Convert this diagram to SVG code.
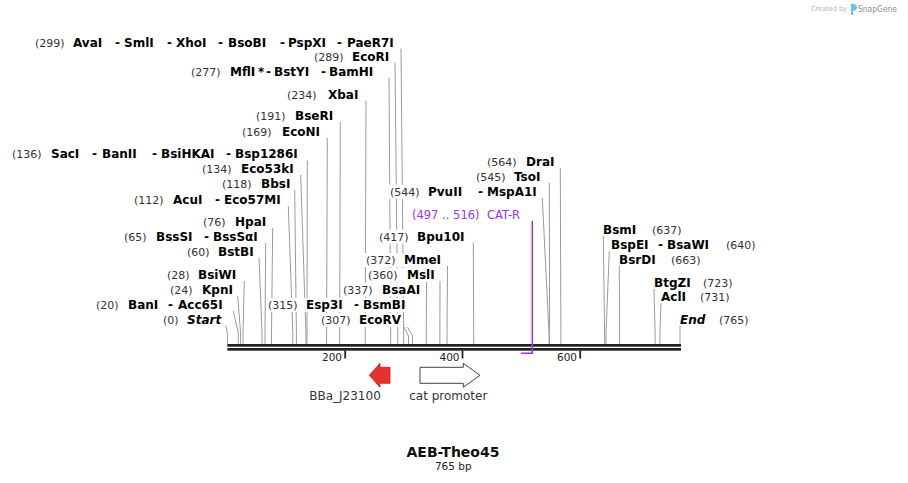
<svg xmlns="http://www.w3.org/2000/svg" width="908" height="483" viewBox="0 0 908 483">
<style>
text{font-family:"DejaVu Sans","Verdana",sans-serif}
.n{font-size:11px;fill:#333}
.e{font-size:12px;font-weight:bold;fill:#000}
.i{font-size:12px;font-weight:bold;font-style:italic;fill:#000}
.bg{fill:#fff}
.ln{fill:none;stroke:#9a9a9a;stroke-width:1}
.p{fill:#a030f0;font-size:11.5px}
.t{font-size:10.5px;fill:#222;text-anchor:end}
.fl{font-size:12px;fill:#333;text-anchor:middle}
</style>
<rect width="908" height="483" fill="#fff"/>
<g id="watermark">
<text x="811" y="10.5" font-size="7" fill="#b5b5b5" textLength="36" lengthAdjust="spacingAndGlyphs">Created by</text>
<path d="M851,3.5 q6,0 6,4 q0,3 -4,3.5 l0,4 l-2,0 z" fill="#6cc4ec"/>
<text x="858" y="12" font-size="9.5" fill="#8c8c8c" textLength="39" lengthAdjust="spacingAndGlyphs">SnapGene</text>
</g>
<g id="connectors">
<polyline class="ln" points="401,48.5 403.7,333 403.7,344"/>
<polyline class="ln" points="395,62.5 397.8,333 397.8,344"/>
<polyline class="ln" points="389,77.5 390.7,333 390.7,344"/>
<polyline class="ln" points="366,100.5 365.2,333 365.2,344"/>
<polyline class="ln" points="340.3,122 339.7,333 339.7,344"/>
<polyline class="ln" points="327.3,138 326.6,333 326.6,344"/>
<polyline class="ln" points="307.3,160.5 307,333 307,344"/>
<polyline class="ln" points="300.7,175 305.9,333 305.9,344"/>
<polyline class="ln" points="294.7,190 296.4,333 296.4,344"/>
<polyline class="ln" points="288.3,206 292.8,333 292.8,344"/>
<polyline class="ln" points="272.7,228 271.5,333 271.5,344"/>
<polyline class="ln" points="265.7,243 265,333 265,344"/>
<polyline class="ln" points="259,257.5 262,333 262,344"/>
<polyline class="ln" points="244.3,281 243,333 243,344"/>
<polyline class="ln" points="237.7,296 240.6,333 240.6,344"/>
<polyline class="ln" points="233.3,311 238.3,333 238.3,344"/>
<polyline class="ln" points="225.8,325.5 227.4,333 227.4,344"/>
<polyline class="ln" points="404,327 408.5,336 408.5,344"/>
<polyline class="ln" points="407.5,327 412.5,336 412.5,344"/>
<polyline class="ln" points="426.5,279 426.3,333 426.3,344"/>
<polyline class="ln" points="440,281 439.9,333 439.9,344"/>
<polyline class="ln" points="447.5,266 447,333 447,344"/>
<polyline class="ln" points="473.3,242.7 473.7,333 473.7,344"/>
<polyline class="ln" points="542.3,198 549,333 549,344"/>
<polyline class="ln" points="549.3,183 549.6,333 549.6,344"/>
<polyline class="ln" points="560.3,168 560.9,333 560.9,344"/>
<polyline class="ln" points="603.3,236 604.6,333 604.6,344"/>
<polyline class="ln" points="609.3,251 606,333 606,344"/>
<polyline class="ln" points="619.3,266 619.6,333 619.6,344"/>
<polyline class="ln" points="654,289 655.1,333 655.1,344"/>
<polyline class="ln" points="661,303 659.9,333 659.9,344"/>
<polyline class="ln" points="680,326 680,333 680,344"/>
</g>
<g id="backbone">
<rect x="227.3" y="344" width="453.7" height="2.7" fill="#222"/>
<rect x="227.3" y="348" width="453.7" height="2.7" fill="#222"/>
<rect x="344.3" y="350.5" width="1.8" height="8" fill="#222"/>
<rect x="461.6" y="350.5" width="1.8" height="8" fill="#222"/>
<rect x="579.3" y="350.5" width="1.8" height="8" fill="#222"/>
<text class="t" x="342" y="360.5">200</text>
<text class="t" x="459.5" y="360.5">400</text>
<text class="t" x="577" y="360.5">600</text>
</g>
<g id="CAT-R">
<polyline points="532.3,221 532.3,353.3 521,353.3" fill="none" stroke="#a030f0" stroke-width="1.5"/>
<rect class="bg" x="410" y="208" width="115" height="14"/>
<text class="p" x="412" y="219">(497 .. 516)</text>
<text class="p" x="487" y="219" font-size="12">CAT-R</text>
</g>
<g id="BBa_J23100">
<polygon points="369.3,375.3 380,363.3 380,367.3 390,367.3 390,383.3 380,383.3 380,387.3" fill="#e8302f" stroke="#b52020" stroke-width="0.8"/>
<text class="fl" x="345" y="400">BBa_J23100</text>
</g>
<g id="cat_promoter">
<polygon points="420,367.3 463.3,367.3 463.3,363.3 480,375.3 463.3,387.3 463.3,383.3 420,383.3" fill="#fff" stroke="#444" stroke-width="1"/>
<text class="fl" x="448.3" y="400">cat promoter</text>
</g>
<g id="title">
<text x="453" y="456.7" font-size="14" font-weight="bold" fill="#111" text-anchor="middle">AEB-Theo45</text>
<text x="453.3" y="469.5" font-size="10.5" fill="#222" text-anchor="middle">765 bp</text>
</g>
<g id="site299">
<rect class="bg" x="33" y="35.5" width="364" height="14"/>
<text class="n" x="35" y="46.5">(299)</text><text class="e" x="73" y="46.5">AvaI</text><text class="e" x="115" y="46.5">-</text><text class="e" x="124" y="46.5">SmlI</text><text class="e" x="167" y="46.5">-</text><text class="e" x="176" y="46.5">XhoI</text><text class="e" x="218" y="46.5">-</text><text class="e" x="228" y="46.5">BsoBI</text><text class="e" x="280" y="46.5">-</text><text class="e" x="288" y="46.5">PspXI</text><text class="e" x="337" y="46.5">-</text><text class="e" x="347" y="46.5">PaeR7I</text>
</g>
<g id="site289">
<rect class="bg" x="312" y="49.7" width="80" height="14"/>
<text class="n" x="314" y="60.7">(289)</text><text class="e" x="352" y="60.7">EcoRI</text>
</g>
<g id="site277">
<rect class="bg" x="189" y="64.7" width="196" height="14"/>
<text class="n" x="191" y="75.7">(277)</text><text class="e" x="230" y="75.7">MflI</text><text class="e" x="258" y="75.7">*</text><text class="e" x="266" y="75.7">-</text><text class="e" x="274" y="75.7">BstYI</text><text class="e" x="321" y="75.7">-</text><text class="e" x="329" y="75.7">BamHI</text>
</g>
<g id="site234">
<rect class="bg" x="285" y="87.5" width="76" height="14"/>
<text class="n" x="287" y="98.5">(234)</text><text class="e" x="328" y="98.5">XbaI</text>
</g>
<g id="site191">
<rect class="bg" x="254" y="109" width="82" height="14"/>
<text class="n" x="256" y="120">(191)</text><text class="e" x="295" y="120">BseRI</text>
</g>
<g id="site169">
<rect class="bg" x="240" y="125" width="83" height="14"/>
<text class="n" x="242" y="136">(169)</text><text class="e" x="282" y="136">EcoNI</text>
</g>
<g id="site136">
<rect class="bg" x="10" y="147.3" width="292" height="14"/>
<text class="n" x="12" y="158.3">(136)</text><text class="e" x="51" y="158.3">SacI</text><text class="e" x="92" y="158.3">-</text><text class="e" x="102" y="158.3">BanII</text><text class="e" x="152" y="158.3">-</text><text class="e" x="161" y="158.3">BsiHKAI</text><text class="e" x="226" y="158.3">-</text><text class="e" x="235" y="158.3">Bsp1286I</text>
</g>
<g id="site134">
<rect class="bg" x="200" y="162.3" width="97" height="14"/>
<text class="n" x="202" y="173.3">(134)</text><text class="e" x="241" y="173.3">Eco53kI</text>
</g>
<g id="site118">
<rect class="bg" x="220" y="177.3" width="72" height="14"/>
<text class="n" x="222" y="188.3">(118)</text><text class="e" x="261" y="188.3">BbsI</text>
</g>
<g id="site112">
<rect class="bg" x="132" y="193" width="152" height="14"/>
<text class="n" x="134" y="204">(112)</text><text class="e" x="173" y="204">AcuI</text><text class="e" x="215" y="204">-</text><text class="e" x="224" y="204">Eco57MI</text>
</g>
<g id="site76">
<rect class="bg" x="201" y="215" width="68" height="14"/>
<text class="n" x="203" y="226">(76)</text><text class="e" x="235" y="226">HpaI</text>
</g>
<g id="site65">
<rect class="bg" x="122" y="230" width="139" height="14"/>
<text class="n" x="124" y="241">(65)</text><text class="e" x="156" y="241">BssSI</text><text class="e" x="204" y="241">-</text><text class="e" x="213" y="241">BssSαI</text>
</g>
<g id="site60">
<rect class="bg" x="185" y="244.7" width="72" height="14"/>
<text class="n" x="187" y="255.7">(60)</text><text class="e" x="218" y="255.7">BstBI</text>
</g>
<g id="site28">
<rect class="bg" x="165" y="268" width="75" height="14"/>
<text class="n" x="167" y="279">(28)</text><text class="e" x="198" y="279">BsiWI</text>
</g>
<g id="site24">
<rect class="bg" x="168" y="283" width="67" height="14"/>
<text class="n" x="170" y="294">(24)</text><text class="e" x="202" y="294">KpnI</text>
</g>
<g id="site20">
<rect class="bg" x="94" y="298" width="132" height="14"/>
<text class="n" x="96" y="309">(20)</text><text class="e" x="128" y="309">BanI</text><text class="e" x="168" y="309">-</text><text class="e" x="178" y="309">Acc65I</text>
</g>
<g id="site0">
<rect class="bg" x="161" y="313" width="61" height="14"/>
<text class="n" x="163" y="324">(0)</text><text class="i" x="187" y="324">Start</text>
</g>
<g id="site372">
<rect class="bg" x="364" y="253" width="81" height="14"/>
<text class="n" x="366" y="264">(372)</text><text class="e" x="404" y="264">MmeI</text>
</g>
<g id="site360">
<rect class="bg" x="366" y="268" width="72" height="14"/>
<text class="n" x="368" y="279">(360)</text><text class="e" x="407" y="279">MslI</text>
</g>
<g id="site337">
<rect class="bg" x="341" y="282.5" width="82" height="14"/>
<text class="n" x="343" y="293.5">(337)</text><text class="e" x="382" y="293.5">BsaAI</text>
</g>
<g id="site315">
<rect class="bg" x="266" y="298" width="143" height="14"/>
<text class="n" x="268" y="309">(315)</text><text class="e" x="306" y="309">Esp3I</text><text class="e" x="354" y="309">-</text><text class="e" x="363" y="309">BsmBI</text>
</g>
<g id="site307">
<rect class="bg" x="319" y="313" width="83" height="14"/>
<text class="n" x="321" y="324">(307)</text><text class="e" x="359" y="324">EcoRV</text>
</g>
<g id="site417">
<rect class="bg" x="377" y="229.7" width="91" height="14"/>
<text class="n" x="379" y="240.7">(417)</text><text class="e" x="417" y="240.7">Bpu10I</text>
</g>
<g id="site544">
<rect class="bg" x="388" y="184.7" width="151" height="14"/>
<text class="n" x="390" y="195.7">(544)</text><text class="e" x="428" y="195.7">PvuII</text><text class="e" x="478" y="195.7">-</text><text class="e" x="487" y="195.7">MspA1I</text>
</g>
<g id="site545">
<rect class="bg" x="474" y="169.7" width="72" height="14"/>
<text class="n" x="476" y="180.7">(545)</text><text class="e" x="514" y="180.7">TsoI</text>
</g>
<g id="site564">
<rect class="bg" x="485" y="155" width="71" height="14"/>
<text class="n" x="487" y="166">(564)</text><text class="e" x="526" y="166">DraI</text>
</g>
<g id="site637">
<rect class="bg" x="602" y="223" width="81" height="13"/>
<text class="e" x="603" y="234">BsmI</text><text class="n" x="652" y="234">(637)</text>
</g>
<g id="site640">
<rect class="bg" x="610" y="238.3" width="147" height="13"/>
<text class="e" x="611" y="249.3">BspEI</text><text class="e" x="658" y="249.3">-</text><text class="e" x="667" y="249.3">BsaWI</text><text class="n" x="726" y="249.3">(640)</text>
</g>
<g id="site663">
<rect class="bg" x="618" y="253" width="84" height="13"/>
<text class="e" x="619" y="264">BsrDI</text><text class="n" x="671" y="264">(663)</text>
</g>
<g id="site723">
<rect class="bg" x="653" y="275.7" width="80" height="13"/>
<text class="e" x="654" y="286.7">BtgZI</text><text class="n" x="703" y="286.7">(723)</text>
</g>
<g id="site731">
<rect class="bg" x="660" y="290" width="70" height="13"/>
<text class="e" x="661" y="301">AclI</text><text class="n" x="700" y="301">(731)</text>
</g>
<g id="site765">
<rect class="bg" x="679" y="313" width="71" height="13"/>
<text class="i" x="680" y="324">End</text><text class="n" x="719" y="324">(765)</text>
</g>
</svg>
